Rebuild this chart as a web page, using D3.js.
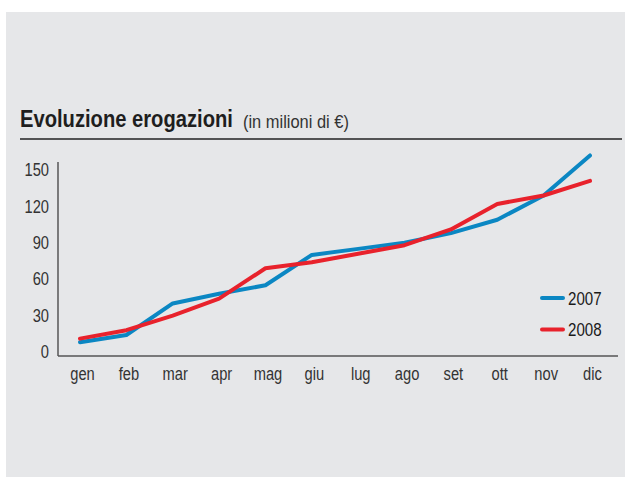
<!DOCTYPE html>
<html>
<head>
<meta charset="utf-8">
<script src="https://cdn.jsdelivr.net/npm/d3@7"></script>
<style>
  body { margin: 0; background: #fff; }
  svg { display: block; }
  text { font-family: "Liberation Sans", Arial, sans-serif; }
</style>
</head>
<body>
<script>
// months and monthly values (millions of euro)
const months = ["gen", "feb", "mar", "apr", "mag", "giu", "lug", "ago", "set", "ott", "nov", "dic"];
const values2007 = [8, 14, 40, 48, 55, 80, 85, 90, 98, 109, 129, 162];
const values2008 = [11, 18, 30, 44, 69, 74, 81, 88, 101, 122, 129, 141];
const yTicks = [0, 30, 60, 90, 120, 150];
const seriesNames = ["2007", "2008"];
const colors = ["#0b87c3", "#e8222c"];

const width = 625;
const height = 477;
const squeeze = "scale(0.84,1)"; // condensed look, no narrow font installed

const svg = d3.select("body").append("svg")
    .attr("width", width)
    .attr("height", height);

// gray panel
svg.append("rect")
    .attr("x", 6).attr("y", 12)
    .attr("width", width - 6).attr("height", height - 12)
    .attr("fill", "#e6e7e9");

// squeeze a text horizontally so it takes the given width
function fitText(sel, x0, y0, w) {
    const len = sel.node().getComputedTextLength();
    sel.attr("transform", `translate(${x0},${y0}) scale(${w / len},1)`);
}

// title
const t1 = svg.append("text")
    .attr("font-size", 23)
    .attr("font-weight", "bold")
    .attr("fill", "#1e1e1e")
    .text("Evoluzione erogazioni");
fitText(t1, 20, 127, 213);

const t2 = svg.append("text")
    .attr("font-size", 18)
    .attr("fill", "#333")
    .text("(in milioni di €)");
fitText(t2, 243, 128, 106);

svg.append("line")
    .attr("x1", 20).attr("x2", 622)
    .attr("y1", 139).attr("y2", 139)
    .attr("stroke", "#222")
    .attr("stroke-width", 1.5);

// scales
const x = d3.scalePoint()
    .domain(months)
    .range([80, 590]);

const y = d3.scaleLinear()
    .domain([0, 150])
    .range([352, 170]);

// axes lines
svg.append("line")
    .attr("x1", 58).attr("x2", 58)
    .attr("y1", 162).attr("y2", 356)
    .attr("stroke", "#333").attr("stroke-width", 1.2);
svg.append("line")
    .attr("x1", 58).attr("x2", 618)
    .attr("y1", 356).attr("y2", 356)
    .attr("stroke", "#555").attr("stroke-width", 1.5);

// y axis labels
const yAxis = d3.axisLeft(y).tickValues(yTicks).tickSize(0).tickPadding(0);
svg.append("g")
    .attr("transform", "translate(49,0)")
    .call(yAxis)
    .call(g => g.select(".domain").remove())
    .selectAll("text")
    .attr("font-size", 17.5)
    .attr("fill", "#333")
    .attr("font-family", "Liberation Sans, Arial, sans-serif")
    .attr("transform", squeeze);

// x axis labels
const xAxis = d3.axisBottom(x).tickSize(0).tickPadding(0);
svg.append("g")
    .attr("transform", "translate(2,368)")
    .call(xAxis)
    .call(g => g.select(".domain").remove())
    .selectAll("text")
    .attr("font-size", 17.5)
    .attr("fill", "#333")
    .attr("font-family", "Liberation Sans, Arial, sans-serif")
    .attr("transform", squeeze);

// lines
const line = d3.line()
    .x((d, i) => x(months[i]))
    .y(d => y(d));

[values2007, values2008].forEach((vals, k) => {
    svg.append("path")
        .datum(vals)
        .attr("d", line)
        .attr("fill", "none")
        .attr("stroke", colors[k])
        .attr("stroke-width", 4)
        .attr("stroke-linejoin", "round")
        .attr("stroke-linecap", "round");
});

// legend
seriesNames.forEach((name, k) => {
    const ly = 298 + k * 31.5;
    svg.append("line")
        .attr("x1", 542).attr("x2", 563)
        .attr("y1", ly).attr("y2", ly)
        .attr("stroke", colors[k])
        .attr("stroke-width", 4)
        .attr("stroke-linecap", "round");
    svg.append("text")
        .attr("transform", `translate(568,${ly + 6.5}) ${squeeze}`)
        .attr("font-size", 18)
        .attr("fill", "#1a1a1a")
        .text(name);
});
</script>
</body>
</html>
